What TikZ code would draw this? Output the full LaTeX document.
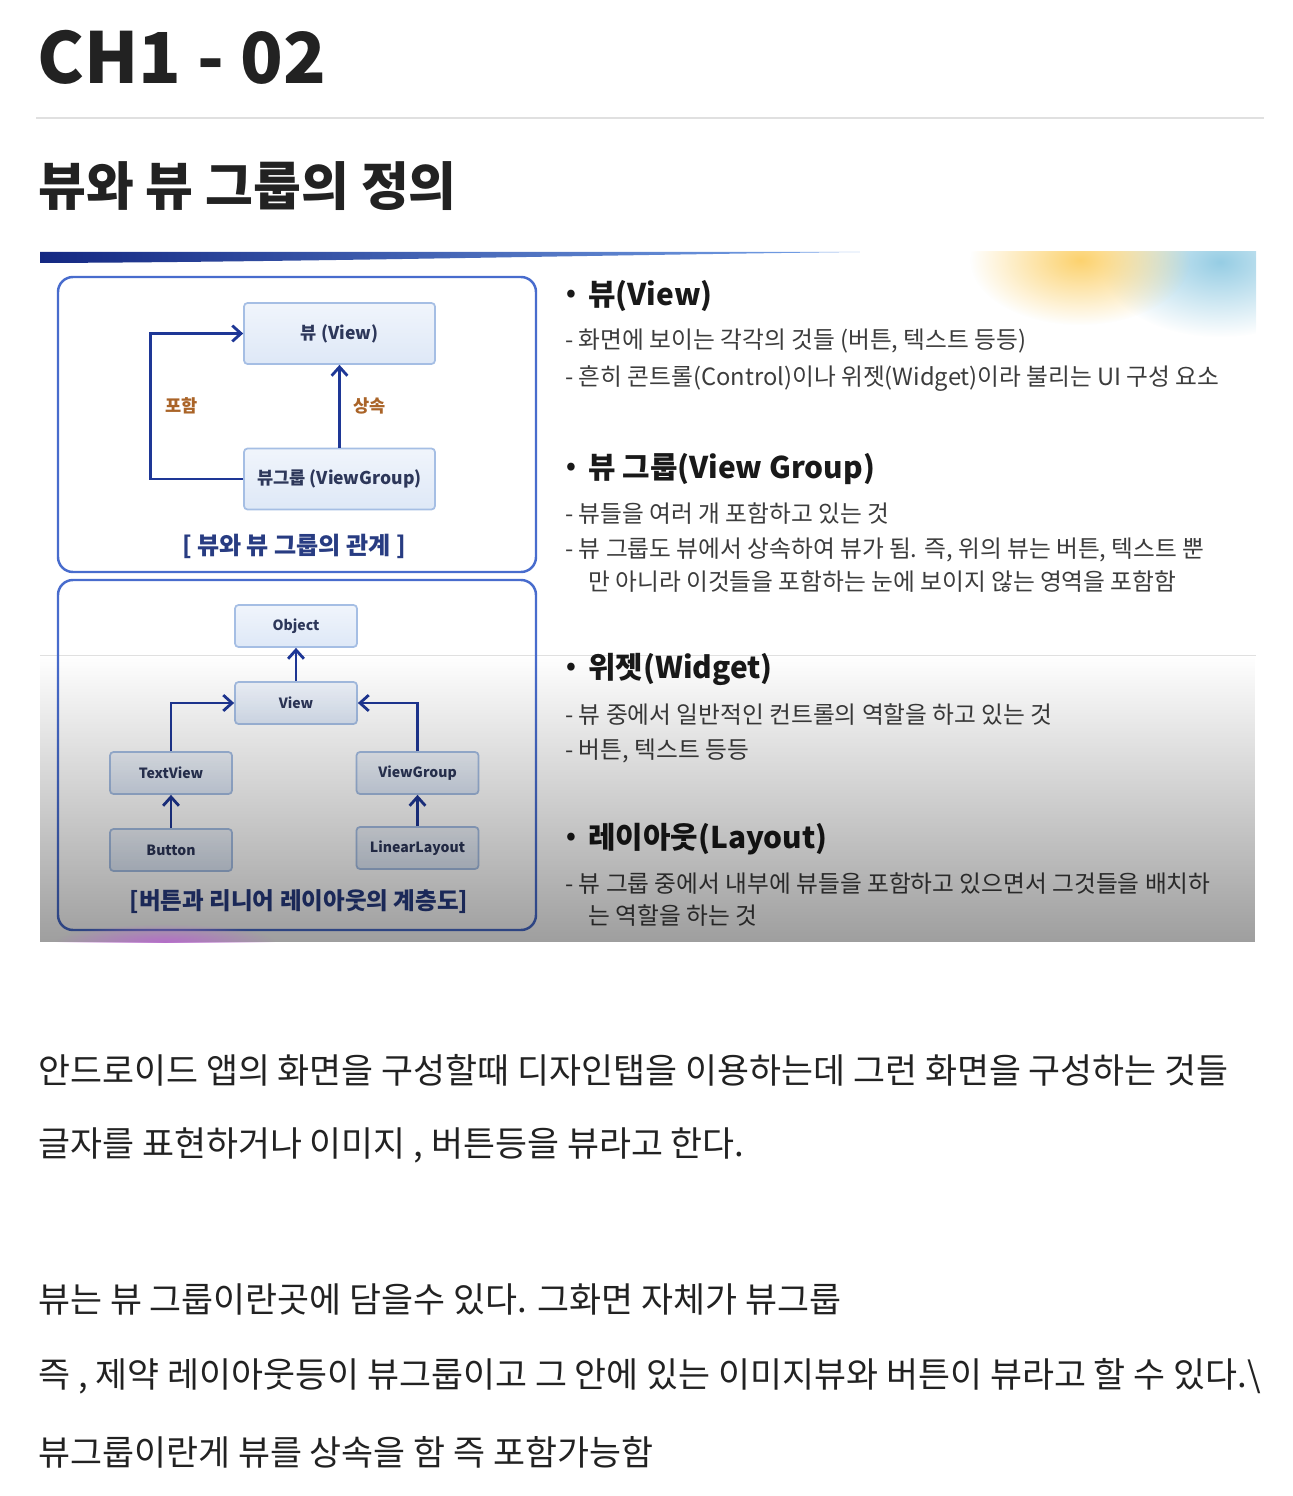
\documentclass[tikz,border=0pt]{standalone}
\usepackage{fontspec}
\setmainfont{Noto Sans CJK KR}
\usetikzlibrary{arrows.meta,positioning,fadings}

\definecolor{navy}{RGB}{30,55,150}
\definecolor{framecol}{RGB}{72,108,205}
\definecolor{boxfill}{RGB}{222,232,247}
\definecolor{boxline}{RGB}{165,190,228}
\definecolor{boxtext}{RGB}{45,55,90}
\definecolor{brownlbl}{RGB}{170,100,40}
\definecolor{captext}{RGB}{40,60,130}
\definecolor{ink}{RGB}{34,34,34}
\definecolor{subink}{RGB}{60,60,60}
\definecolor{sunny}{RGB}{252,210,110}
\definecolor{skyblue}{RGB}{150,205,228}
\definecolor{orchid}{RGB}{180,110,200}
\tikzfading[name=blob, inner color=transparent!0, outer color=transparent!100]

\begin{document}
\begin{tikzpicture}[x=0.02cm, y=-0.02cm,
  vbox/.style={rectangle, draw=boxline, line width=1pt, top color=boxfill!45!white, bottom color=boxfill, rounded corners=2pt, font=\bfseries\fontsize{10}{12}\selectfont, text=boxtext, minimum width=3.82cm, minimum height=1.22cm},
  hbox/.style={vbox, minimum width=2.44cm, minimum height=0.84cm, font=\bfseries\fontsize{8}{10}\selectfont},
  frame/.style={draw=framecol, line width=1.4pt, rounded corners=0.3cm},
  arr/.style={-{Straight Barb[length=5pt, width=9pt]}, line width=1.6pt, draw=navy},
  lbl/.style={inner sep=0pt, font=\bfseries\fontsize{10}{12}\selectfont, text=brownlbl},
  capt/.style={font=\bfseries\fontsize{13.7}{16}\selectfont, text=captext},
  head/.style={anchor=west, inner sep=0pt, font=\bfseries\fontsize{17}{21}\selectfont, text=black!90},
  dot/.style={inner sep=0pt, font=\bfseries\fontsize{14}{16}\selectfont, text=black!90},
  sub/.style={anchor=west, inner sep=0pt, font=\fontsize{13.5}{16}\selectfont, text=subink},
  para/.style={anchor=west, inner sep=0pt, font=\fontsize{19.8}{24}\selectfont, text=ink}
]
\useasboundingbox (0,0) rectangle (1292,1496);

% page title
\node[anchor=west, inner sep=0pt, font=\bfseries\fontsize{40}{48}\selectfont, text=ink] (title) at (37,57) {CH1 - 02};
\draw[black!12, line width=0.6pt] (36,118) -- (1264,118);
\node[anchor=west, inner sep=0pt, font=\bfseries\fontsize{29.6}{34}\selectfont, text=ink] (heading) at (38,186) {뷰와 뷰 그룹의 정의};

% slide background
\fill[white] (40,252) rectangle (1256,942);
\begin{scope}
  \clip (40,252) rectangle (1256,655);
  \fill[skyblue, path fading=blob] (1220,262) ellipse (120 and 75);
  \fill[sunny, path fading=blob] (1080,260) ellipse (110 and 65);
\end{scope}
\shade[left color={rgb,255:red,20;green,40;blue,130}, right color={rgb,255:red,120;green,165;blue,235}]
  (40,252) -- (860,252) .. controls (600,255) and (300,262) .. (40,263) -- cycle;
\draw[black!12, line width=0.5pt] (40,655) -- (1256,655);

% relation of view and view group
\draw[frame, fill=white] (58,277) rectangle (536,572);
\node[vbox] (view) at (339.5,333.5) {뷰 (View)};
\node[vbox] (vgroup) at (339.5,479) {뷰그룹 (ViewGroup)};
\draw[arr] (vgroup) -- node[lbl, right=7pt] (inherit) {상속} (view);
\draw[arr] (vgroup.west) -- ++(-93,0) |- node[pos=0.25, lbl, right=8pt] (include) {포함} (view.west);
\node[capt] (cap1) at (294,546) {[ 뷰와 뷰 그룹의 관계 ]};

% hierarchy of button and linear layout
\draw[frame] (58,580) rectangle (536,930);
\node[hbox] (obj) at (296,626) {Object};
\node[hbox] (vw) at (296,703) {View};
\node[hbox] (txt) at (171,773) {TextView};
\node[hbox] (vgrp) at (417.5,773) {ViewGroup};
\node[hbox] (btn) at (171,850) {Button};
\node[hbox] (lin) at (417.5,848) {LinearLayout};
\draw[arr] (vw) -- (obj);
\draw[arr] (txt) |- (vw);
\draw[arr] (vgrp) |- (vw);
\draw[arr] (btn) -- (txt);
\draw[arr] (lin) -- (vgrp);
\node[capt, font=\bfseries\fontsize{13.4}{16}\selectfont] (cap2) at (299,902) {[버튼과 리니어 레이아웃의 계층도]};

% definitions on the right
\node[dot] (d1) at (571,296) {•};
\node[head] (hview) at (588,296) {뷰(View)};
\node[sub] (s1) at (565,341) {- 화면에 보이는 각각의 것들 (버튼, 텍스트 등등)};
\node[sub] (s2) at (565,379) {- 흔히 콘트롤(Control)이나 위젯(Widget)이라 불리는 UI 구성 요소};

\node[dot] (d2) at (571,469) {•};
\node[head] (hgroup) at (588,469) {뷰 그룹(View Group)};
\node[sub] (s3) at (565,514) {- 뷰들을 여러 개 포함하고 있는 것};
\node[sub] (s4) at (565,550) {- 뷰 그룹도 뷰에서 상속하여 뷰가 됨. 즉, 위의 뷰는 버튼, 텍스트 뿐};
\node[sub] (s5) at (588,582) {만 아니라 이것들을 포함하는 눈에 보이지 않는 영역을 포함함};

\node[dot] (d3) at (571,669) {•};
\node[head] (hwidget) at (588,669) {위젯(Widget)};
\node[sub] (s6) at (565,715) {- 뷰 중에서 일반적인 컨트롤의 역할을 하고 있는 것};
\node[sub] (s7) at (565,751) {- 버튼, 텍스트 등등};

\node[dot] (d4) at (571,839) {•};
\node[head] (hlayout) at (588,839) {레이아웃(Layout)};
\node[sub] (s8) at (565,884) {- 뷰 그룹 중에서 내부에 뷰들을 포함하고 있으면서 그것들을 배치하};
\node[sub] (s9) at (588,916) {는 역할을 하는 것};

% darkening at the bottom of the slide
\fill[black, path fading=north, fill opacity=0.38] (40,655) rectangle (1256,942);
\begin{scope}
  \clip (40,924) rectangle (1256,942);
  \fill[orchid, path fading=blob] (165,942) ellipse (110 and 18);
\end{scope}

% notes below
\node[para] (p1) at (38,1070) {안드로이드 앱의 화면을 구성할때 디자인탭을 이용하는데 그런 화면을 구성하는 것들};
\node[para] (p2) at (38,1145) {글자를 표현하거나 이미지 , 버튼등을 뷰라고 한다.};
\node[para] (p3) at (38,1299) {뷰는 뷰 그룹이란곳에 담을수 있다. 그화면 자체가 뷰그룹};
\node[para] (p4) at (38,1376) {즉 , 제약 레이아웃등이 뷰그룹이고 그 안에 있는 이미지뷰와 버튼이 뷰라고 할 수 있다.\textbackslash};
\node[para] (p5) at (38,1452) {뷰그룹이란게 뷰를 상속을 함 즉 포함가능함};
\end{tikzpicture}
\end{document}
